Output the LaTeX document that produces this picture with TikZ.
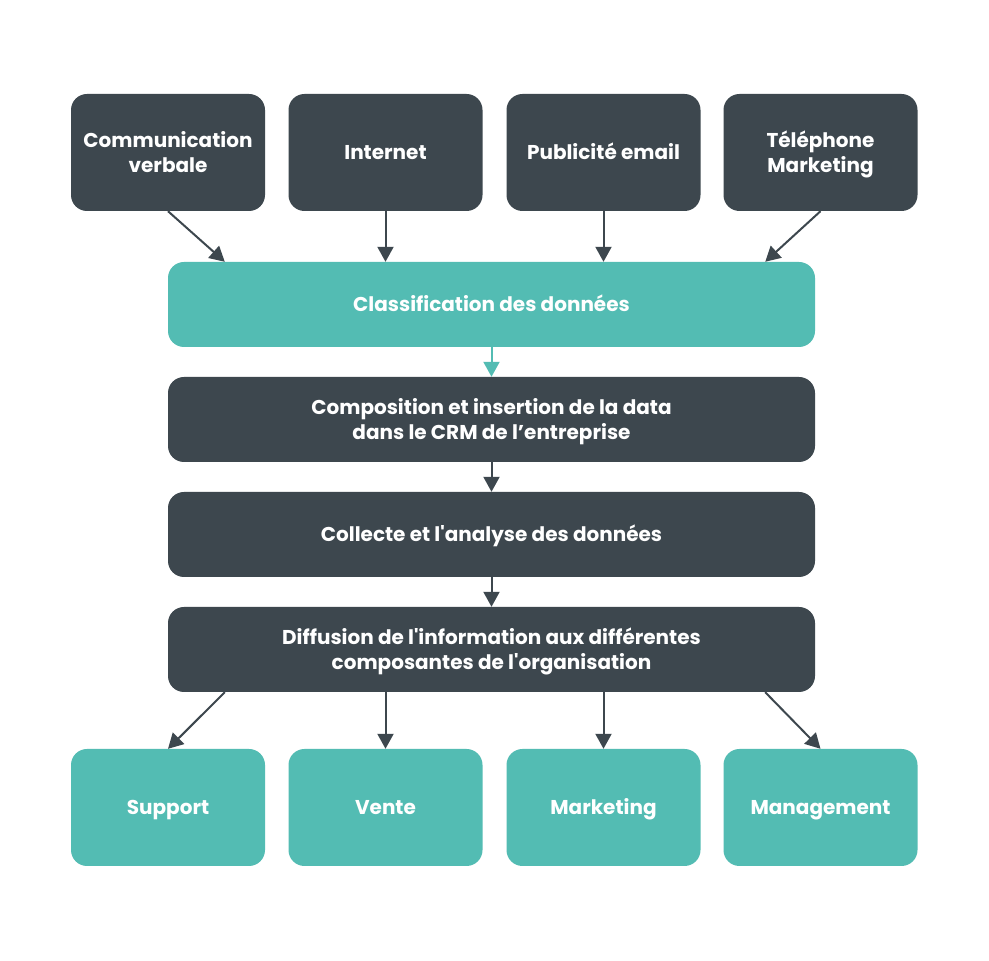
\documentclass[tikz,border=0pt]{standalone}
\usepackage{fontspec}
\setmainfont{Poppins}
\usetikzlibrary{arrows.meta}
\definecolor{darkbox}{HTML}{3D474E}
\definecolor{tealbox}{HTML}{53BCB3}
\newcommand{\boxstrut}{\rule[-6pt]{0pt}{27pt}}
\newcommand{\topstrut}{\rule[-6pt]{0pt}{27pt}}
\begin{document}
\begin{tikzpicture}[x=1pt, y=1pt,
    box/.style={rounded corners=16pt, text=white, align=center,
        font=\fontsize{20}{25}\selectfont\bfseries, inner sep=0pt,
        execute at begin node=\boxstrut, execute at end node=\boxstrut},
    smallbox/.style={box, minimum width=194pt, minimum height=117pt},
    widebox/.style={box, minimum width=647pt, minimum height=85pt},
    arr/.style={line width=2pt, -{Triangle[length=15pt, width=16pt]}}]
    \useasboundingbox[fill=white] (0, 0) rectangle (989, 961);

    \node[smallbox, fill=darkbox] (comm) at (168, 808.5) {\topstrut Communication\\verbale};
    \node[smallbox, fill=darkbox] (inet) at (385.5, 808.5) {Internet};
    \node[smallbox, fill=darkbox] (mail) at (603.5, 808.5) {Publicité email};
    \node[smallbox, fill=darkbox] (tel) at (820.5, 808.5) {\topstrut Téléphone\\Marketing};

    \node[widebox, fill=tealbox] (class) at (491.5, 656.5) {Classification des données};
    \node[widebox, fill=darkbox] (crm) at (491.5, 541.5) {\topstrut Composition et insertion de la data\\dans le CRM de l’entreprise};
    \node[widebox, fill=darkbox] (coll) at (491.5, 426.5) {Collecte et l\textquotesingle analyse des données};
    \node[widebox, fill=darkbox] (diff) at (491.5, 311.5) {\topstrut Diffusion de l\textquotesingle information aux différentes\\composantes de l\textquotesingle organisation};

    \node[smallbox, fill=tealbox] (supp) at (168, 153.5) {Support};
    \node[smallbox, fill=tealbox] (vente) at (385.5, 153.5) {Vente};
    \node[smallbox, fill=tealbox] (mkt) at (603.5, 153.5) {Marketing};
    \node[smallbox, fill=tealbox] (mgmt) at (820.5, 153.5) {Management};

    % Draw the arrows between boxes
    \draw[arr, darkbox] (comm.south) -- ([xshift=57pt]class.north west);
    \draw[arr, darkbox] (inet.south) -- (inet.south |- class.north);
    \draw[arr, darkbox] (mail.south) -- (mail.south |- class.north);
    \draw[arr, darkbox] (tel.south) -- ([xshift=-50pt]class.north east);
    \draw[arr, tealbox] (class.south) -- (crm.north);
    \draw[arr, darkbox] (crm.south) -- (coll.north);
    \draw[arr, darkbox] (coll.south) -- (diff.north);
    \draw[arr, darkbox] ([xshift=57pt]diff.south west) -- (supp.north);
    \draw[arr, darkbox] (vente.north |- diff.south) -- (vente.north);
    \draw[arr, darkbox] (mkt.north |- diff.south) -- (mkt.north);
    \draw[arr, darkbox] ([xshift=-50pt]diff.south east) -- (mgmt.north);
\end{tikzpicture}
\end{document}
